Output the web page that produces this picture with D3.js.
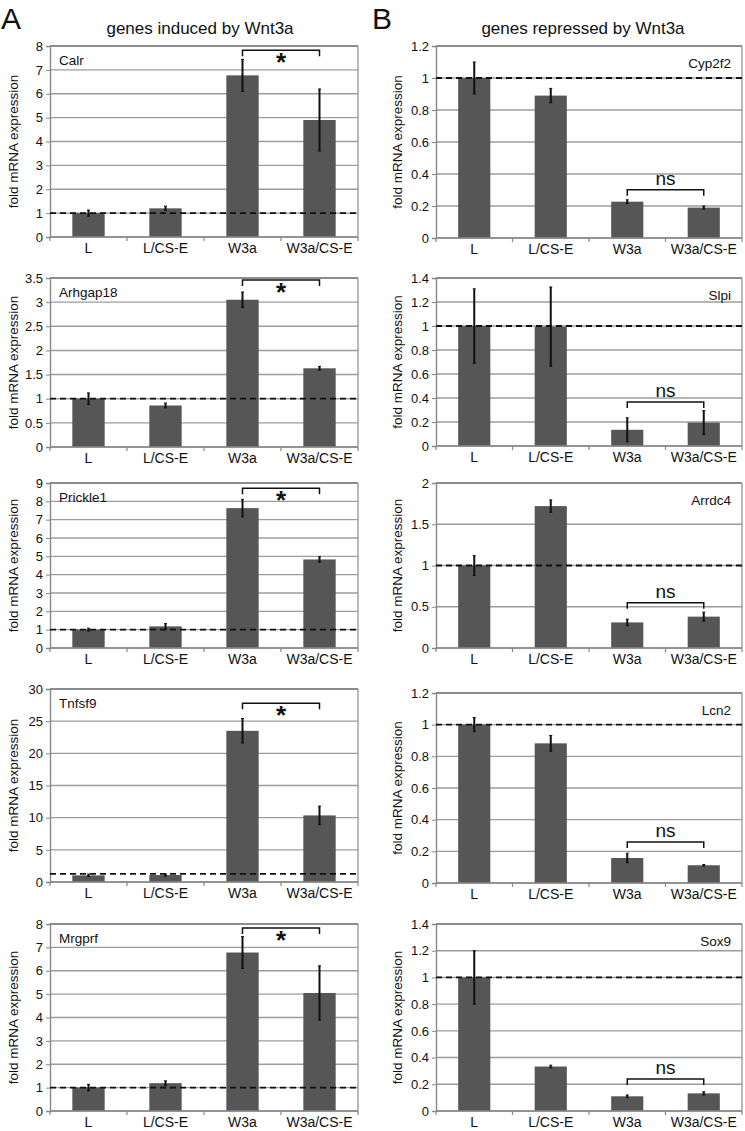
<!DOCTYPE html>
<html><head><meta charset="utf-8">
<script src="https://cdn.jsdelivr.net/npm/d3@7"></script>
<style>body{margin:0;background:#fff}svg{display:block;font-family:"Liberation Sans",Arial,sans-serif}</style>
</head><body>
<script>
const categories = ["L", "L/CS-E", "W3a", "W3a/CS-E"];

// Panel A: genes induced by Wnt3a
const genesA = ["Calr", "Arhgap18", "Prickle1", "Tnfsf9", "Mrgprf"];
const valuesA = [
  [1.0, 1.2, 6.77, 4.9],
  [1.0, 0.86, 3.05, 1.63],
  [1.0, 1.18, 7.63, 4.83],
  [1.03, 1.08, 23.5, 10.35],
  [1.0, 1.19, 6.78, 5.05]
];
const errorsA = [
  [0.13, 0.09, 0.67, 1.3],
  [0.12, 0.05, 0.16, 0.04],
  [0.08, 0.15, 0.48, 0.15],
  [0.2, 0.15, 1.9, 1.45],
  [0.14, 0.1, 0.68, 1.16]
];
const yMaxA = [8, 3.5, 9, 30, 8];
const yStepA = [1, 0.5, 1, 5, 1];
const refA = [1, 1, 1, 1.25, 1];
const bracketA = [7.82, 3.46, 8.72, 27.8, 7.83];
const markA = "*";

// Panel B: genes repressed by Wnt3a
const genesB = ["Cyp2f2", "Slpi", "Arrdc4", "Lcn2", "Sox9"];
const valuesB = [
  [1.0, 0.89, 0.227, 0.19],
  [1.0, 0.995, 0.135, 0.195],
  [1.0, 1.72, 0.31, 0.38],
  [1.0, 0.882, 0.158, 0.112],
  [1.0, 0.333, 0.11, 0.132]
];
const errorsB = [
  [0.1, 0.045, 0.012, 0.01],
  [0.31, 0.33, 0.1, 0.1],
  [0.12, 0.075, 0.04, 0.055],
  [0.045, 0.05, 0.03, 0.005],
  [0.2, 0.01, 0.01, 0.012]
];
const yMaxB = [1.2, 1.4, 2, 1.2, 1.4];
const yStepB = [0.2, 0.2, 0.5, 0.2, 0.2];
const refB = [1, 1, 1, 1, 1];
const bracketB = [0.302, 0.367, 0.55, 0.259, 0.24];
const markB = "ns";

const titleA = "genes induced by Wnt3a";
const titleB = "genes repressed by Wnt3a";
const yTitle = "fold mRNA expression";

const W = 745, H = 1131;
const svg = d3.select("body").append("svg").attr("width", W).attr("height", H);

const colA = {left: 50, right: 358, tops: [46, 278, 483, 689, 924], bottoms: [237, 447, 648, 882, 1111], titleX: 18, labelSide: "left"};
const colB = {left: 436, right: 742, tops: [46, 278, 483, 693, 924], bottoms: [238, 446, 648, 883, 1111], titleX: 402, labelSide: "right"};

function fmt(v){ return d3.format("~g")(+v.toFixed(2)); }

function drawPanel(col, i, gene, vals, errs, ymax, ystep, ref, bracketY, mark){
  const top = col.tops[i], bottom = col.bottoms[i];
  const x = d3.scaleBand().domain(categories).range([col.left, col.right]).padding(0);
  const y = d3.scaleLinear().domain([0, ymax]).range([bottom, top]);
  const g = svg.append("g");
  const ticks = d3.range(0, ymax + ystep/2, ystep);
  g.selectAll("line.grid").data(ticks).join("line")
    .attr("x1", col.left).attr("x2", col.right)
    .attr("y1", d => y(d)).attr("y2", d => y(d))
    .attr("stroke", "#9c9c9c").attr("stroke-width", 1.4);
  g.append("line").attr("x1", col.right).attr("x2", col.right).attr("y1", top).attr("y2", bottom)
    .attr("stroke", "#9c9c9c").attr("stroke-width", 1.4);
  g.append("line").attr("x1", col.left).attr("x2", col.right).attr("y1", top).attr("y2", top)
    .attr("stroke", "#8c8c8c").attr("stroke-width", 2);
  const ya = d3.axisLeft(y).tickValues(ticks).tickSize(4).tickFormat(fmt);
  const yg = g.append("g").attr("transform", `translate(${col.left},0)`).call(ya);
  yg.select(".domain").attr("stroke", "#888").attr("stroke-width", 1.4);
  yg.selectAll(".tick line").attr("stroke", "#888");
  yg.selectAll(".tick text").attr("font-size", 13).attr("fill", "#111").attr("x", -7);
  const bw = x.bandwidth() * 0.42;
  const data = categories.map((c, k) => ({c, v: vals[k], e: errs[k]}));
  g.selectAll("rect.bar").data(data).join("rect")
    .attr("x", d => x(d.c) + x.bandwidth()/2 - bw/2)
    .attr("width", bw)
    .attr("y", d => y(d.v))
    .attr("height", d => y(0) - y(d.v))
    .attr("fill", "#565656");
  const xg = g.append("g").attr("transform", `translate(0,${bottom})`);
  xg.append("line").attr("x1", col.left).attr("x2", col.right).attr("stroke", "#888").attr("stroke-width", 1.6);
  const bounds = categories.map(c => x(c)).concat([col.right]);
  xg.selectAll("line.tk").data(bounds).join("line")
    .attr("x1", d => d).attr("x2", d => d).attr("y1", 0).attr("y2", 4).attr("stroke", "#888").attr("stroke-width", 1.2);
  xg.selectAll("text").data(categories).join("text")
    .attr("x", d => x(d) + x.bandwidth()/2).attr("y", 16)
    .attr("text-anchor", "middle").attr("font-size", 14).attr("fill", "#111").text(d => d);
  g.append("line").attr("x1", col.left).attr("x2", col.right)
    .attr("y1", y(ref)).attr("y2", y(ref))
    .attr("stroke", "#111").attr("stroke-width", 1.8).attr("stroke-dasharray", "6,4");
  const eg = g.selectAll("g.err").data(data).join("g");
  eg.append("line")
    .attr("x1", d => x(d.c) + x.bandwidth()/2).attr("x2", d => x(d.c) + x.bandwidth()/2)
    .attr("y1", d => y(d.v + d.e)).attr("y2", d => y(Math.max(0, d.v - d.e)))
    .attr("stroke", "#111").attr("stroke-width", 2);
  eg.append("line")
    .attr("x1", d => x(d.c) + x.bandwidth()/2 - 1.5).attr("x2", d => x(d.c) + x.bandwidth()/2 + 1.5)
    .attr("y1", d => y(d.v + d.e)).attr("y2", d => y(d.v + d.e))
    .attr("stroke", "#111").attr("stroke-width", 1);
  eg.append("line")
    .attr("x1", d => x(d.c) + x.bandwidth()/2 - 1.5).attr("x2", d => x(d.c) + x.bandwidth()/2 + 1.5)
    .attr("y1", d => y(Math.max(0, d.v - d.e))).attr("y2", d => y(Math.max(0, d.v - d.e)))
    .attr("stroke", "#111").attr("stroke-width", 1);
  const bx1 = x(categories[2]) + x.bandwidth()/2, bx2 = x(categories[3]) + x.bandwidth()/2;
  const by = y(bracketY);
  g.append("path").attr("d", `M${bx1},${by + 6}V${by}H${bx2}V${by + 6}`)
    .attr("fill", "none").attr("stroke", "#111").attr("stroke-width", 1.5);
  if (mark === "*") {
    g.append("text").attr("x", (bx1 + bx2)/2).attr("y", by + 21).attr("text-anchor", "middle")
      .attr("font-size", 26).attr("font-weight", "bold").attr("fill", "#111").text(mark);
  } else {
    g.append("text").attr("x", (bx1 + bx2)/2).attr("y", by - 5).attr("text-anchor", "middle")
      .attr("font-size", 19).attr("fill", "#111").text(mark);
  }
  if (col.labelSide === "left") {
    g.append("text").attr("x", col.left + 9).attr("y", top + 19).attr("font-size", 13.5).attr("fill", "#111").text(gene);
  } else {
    g.append("text").attr("x", col.right - 11).attr("y", top + 22).attr("text-anchor", "end").attr("font-size", 13.5).attr("fill", "#111").text(gene);
  }
  g.append("text").attr("transform", `translate(${col.titleX},${(top + bottom)/2}) rotate(-90)`)
    .attr("text-anchor", "middle").attr("font-size", 13.5).attr("fill", "#111").text(yTitle);
}

genesA.forEach((gname, i) => drawPanel(colA, i, gname, valuesA[i], errorsA[i], yMaxA[i], yStepA[i], refA[i], bracketA[i], markA));
genesB.forEach((gname, i) => drawPanel(colB, i, gname, valuesB[i], errorsB[i], yMaxB[i], yStepB[i], refB[i], bracketB[i], markB));

svg.append("text").attr("x", 1).attr("y", 29).attr("font-size", 30).attr("fill", "#111").text("A");
svg.append("text").attr("x", 372).attr("y", 29).attr("font-size", 30).attr("fill", "#111").text("B");
svg.append("text").attr("x", 200).attr("y", 34).attr("text-anchor", "middle").attr("font-size", 17).attr("fill", "#111").text(titleA);
svg.append("text").attr("x", 583).attr("y", 34).attr("text-anchor", "middle").attr("font-size", 17).attr("fill", "#111").text(titleB);
</script>
</body></html>
